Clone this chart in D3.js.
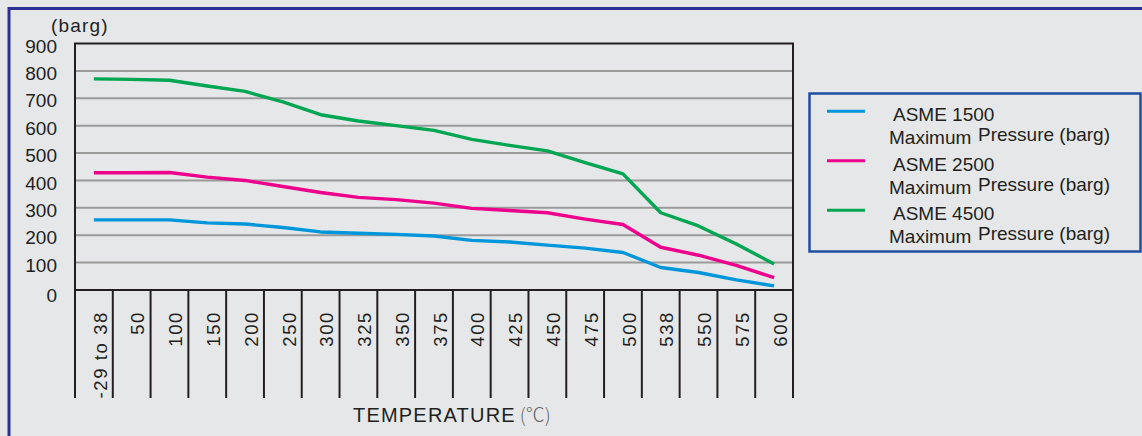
<!DOCTYPE html>
<html>
<head>
<meta charset="utf-8">
<script src="https://cdn.jsdelivr.net/npm/d3@7"></script>
<style>
  html, body { margin: 0; padding: 0; background: #e6e7e8; }
  svg { display: block; }
  text { font-family: "Liberation Sans", Arial, sans-serif; fill: #231f20; }
</style>
</head>
<body>
<svg id="chart" width="1142" height="436"></svg>
<script>
// ---- data ----
const categories = ["-29 to 38","50","100","150","200","250","300","325","350","375","400","425","450","475","500","538","550","575","600"];
const asme1500 = [256,256,256,245,241,228,212,207,203,197,181,175,164,153,137,82,64,37,15];
const asme2500 = [428,428,429,412,400,378,356,338,330,317,298,290,282,259,239,156,127,90,45];
const asme4500 = [771,769,766,745,725,687,640,617,600,583,550,528,508,465,424,282,234,168,95];
const yTicks = [0,100,200,300,400,500,600,700,800,900];
const seriesNames = ["ASME 1500","ASME 2500","ASME 4500"];
const seriesColors = ["#0096db","#ec008c","#00a651"];
const legendSub = ["Maximum", "Pressure (barg)"];
const yUnit = "(barg)";
const xTitle = "TEMPERATURE";
const xUnit = "(℃)";

(function () {
const series = [asme1500, asme2500, asme4500];

const svg = d3.select("#chart");

// outer frame
svg.append("rect").attr("x", 0).attr("y", 0).attr("width", 1142).attr("height", 436).attr("fill", "#e6e7e8");
svg.append("path")
  .attr("d", "M9,440 L9,8.5 L1150,8.5")
  .attr("fill", "none").attr("stroke", "#2e3192").attr("stroke-width", 3);

const pLeft = 75, pRight = 793, pTop = 43.5, pBottom = 290, divBottom = 398;

const x = d3.scaleBand().domain(categories).range([pLeft, pRight]).padding(0);
const y = d3.scaleLinear().domain([0, 900]).range([pBottom, pTop]);

// gridlines
svg.append("g").selectAll("line").data(yTicks.filter(d => d > 0 && d < 900)).join("line")
  .attr("x1", pLeft).attr("x2", pRight)
  .attr("y1", d => y(d)).attr("y2", d => y(d))
  .attr("stroke", "#9a9a9a").attr("stroke-width", 2);

// y axis labels
const yAxis = d3.axisLeft(y).tickValues(yTicks).tickSize(0).tickPadding(0);
const gy = svg.append("g").attr("transform", `translate(57,0)`).call(yAxis);
gy.select(".domain").remove();
gy.selectAll("text").attr("font-size", 19).attr("dy", d => d === 0 ? "0.62em" : "0.45em")
  .style("font-family", '"Liberation Sans", Arial, sans-serif').attr("fill", "#231f20");

svg.append("text").attr("x", 51).attr("y", 32).attr("font-size", 19).attr("letter-spacing", "1.2px").text(yUnit);

// plot frame
svg.append("rect").attr("x", pLeft).attr("y", pTop).attr("width", pRight - pLeft).attr("height", pBottom - pTop)
  .attr("fill", "none").attr("stroke", "#231f20").attr("stroke-width", 2);

// category dividers below axis
const bounds = categories.map(c => x(c)).concat([pRight]);
svg.append("g").selectAll("line").data(bounds).join("line")
  .attr("x1", d => d).attr("x2", d => d)
  .attr("y1", pBottom).attr("y2", divBottom)
  .attr("stroke", "#231f20").attr("stroke-width", 2);

// x labels rotated
svg.append("g").selectAll("text").data(categories).join("text")
  .attr("transform", d => `translate(${x(d) + x.bandwidth() / 2 + 6},311) rotate(-90)`)
  .attr("text-anchor", "end")
  .attr("dy", "0.36em")
  .attr("font-size", 18.5)
  .attr("letter-spacing", "1.6px")
  .text(d => d);

// x title
const xt = svg.append("text").attr("x", 353).attr("y", 422).attr("font-size", 20).attr("letter-spacing", "1.2px");
xt.append("tspan").text(xTitle);
xt.append("tspan").attr("dx", 4).attr("letter-spacing", "0px").style("font-family", '"Noto Sans CJK SC", sans-serif')
  .attr("font-size", 19).attr("fill", "#666").style("font-weight", 300).text(xUnit);

// lines
const line = d3.line().x((d, i) => x(categories[i]) + x.bandwidth() / 2).y(d => y(d));
svg.append("g").selectAll("path").data(series).join("path")
  .attr("d", d => line(d))
  .attr("fill", "none")
  .attr("stroke", (d, i) => seriesColors[i])
  .attr("stroke-width", 3.4)
  .attr("stroke-linejoin", "round");

// legend
const lg = svg.append("g");
lg.append("rect").attr("x", 809.5).attr("y", 93.5).attr("width", 331).attr("height", 158)
  .attr("fill", "#e6e7e8").attr("stroke", "#1f4f9e").attr("stroke-width", 2.5);
seriesNames.forEach((name, i) => {
  const oy = i * 49.5;
  lg.append("line").attr("x1", 827).attr("x2", 865).attr("y1", 111.3 + oy).attr("y2", 111.3 + oy)
    .attr("stroke", seriesColors[i]).attr("stroke-width", 3);
  lg.append("text").attr("x", 893).attr("y", 121 + oy).attr("font-size", 19).text(name);
  lg.append("text").attr("x", 889).attr("y", 144 + oy).attr("font-size", 19).text(legendSub[0]);
  lg.append("text").attr("x", 978).attr("y", 141 + oy).attr("font-size", 19).text(legendSub[1]);
});
})();
</script>
</body>
</html>
